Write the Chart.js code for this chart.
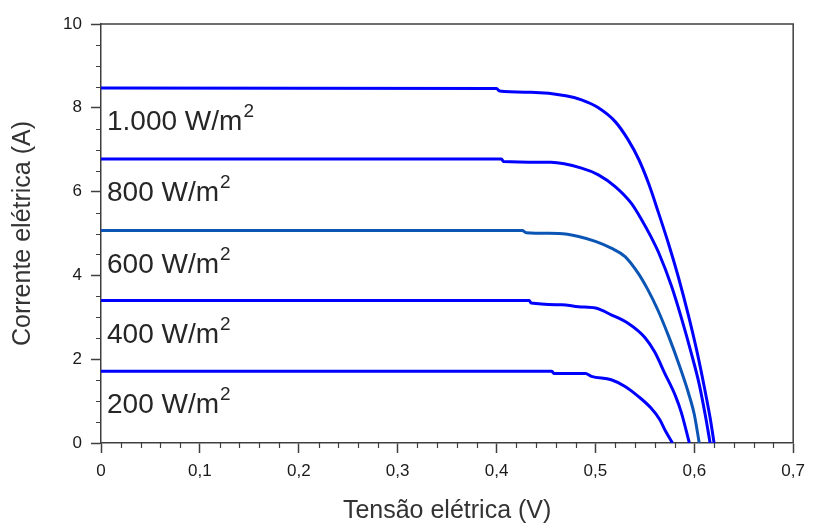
<!DOCTYPE html>
<html>
<head>
<meta charset="utf-8">
<script src="https://cdn.jsdelivr.net/npm/chart.js@4"></script>
<style>
  html, body { margin: 0; padding: 0; background: #fff; }
  #wrap { width: 813px; height: 528px; position: relative; }
</style>
</head>
<body>
<div id="wrap"><canvas id="ivChart"></canvas></div>
<script>
// I-V curves, one pair of arrays per irradiance
const irradiance = ['1.000', '800', '600', '400', '200']

const v1000 = [0, 0.400, 0.403, 0.435, 0.470, 0.486, 0.503, 0.520, 0.533, 0.544, 0.554, 0.564, 0.574, 0.584, 0.594, 0.603, 0.610, 0.616, 0.620]
const i1000 = [8.47, 8.46, 8.40, 8.37, 8.29, 8.19, 8.00, 7.67, 7.24, 6.76, 6.18, 5.48, 4.75, 3.95, 3.05, 2.15, 1.35, 0.60, 0]

const v800 = [0, 0.405, 0.407, 0.455, 0.486, 0.503, 0.520, 0.536, 0.546, 0.556, 0.564, 0.577, 0.587, 0.597, 0.605, 0.611, 0.616]
const i800 = [6.78, 6.78, 6.72, 6.70, 6.56, 6.40, 6.12, 5.73, 5.36, 4.93, 4.54, 3.74, 2.98, 2.14, 1.40, 0.68, 0]

const v600 = [0, 0.426, 0.430, 0.463, 0.483, 0.500, 0.516, 0.530, 0.543, 0.553, 0.563, 0.574, 0.584, 0.594, 0.600, 0.605]
const i600 = [5.07, 5.07, 5.02, 5.00, 4.93, 4.81, 4.65, 4.45, 4.06, 3.66, 3.18, 2.55, 1.91, 1.20, 0.68, 0]

const v400 = [0, 0.433, 0.435, 0.466, 0.483, 0.500, 0.516, 0.533, 0.550, 0.560, 0.570, 0.581, 0.587, 0.595]
const i400 = [3.40, 3.40, 3.34, 3.30, 3.25, 3.22, 3.06, 2.86, 2.52, 2.17, 1.67, 1.12, 0.72, 0]

const v200 = [0, 0.456, 0.458, 0.490, 0.496, 0.516, 0.530, 0.543, 0.556, 0.565, 0.571, 0.578]
const i200 = [1.71, 1.71, 1.66, 1.66, 1.59, 1.51, 1.35, 1.12, 0.84, 0.56, 0.28, 0]

const xTicks = [0, 0.1, 0.2, 0.3, 0.4, 0.5, 0.6, 0.7]
const yTicks = [0, 2, 4, 6, 8, 10]

const FONT = "'Liberation Sans', Arial, sans-serif"
const AXIS = '#3f3f3f'

const toPoints = (vs, is) => vs.map((v, k) => ({ x: v, y: is[k] }))

const curves = [
  { v: v1000, i: i1000, color: '#0000ff' },
  { v: v800, i: i800, color: '#0000ff' },
  { v: v600, i: i600, color: '#0b56b4' },
  { v: v400, i: i400, color: '#0000ff' },
  { v: v200, i: i200, color: '#0000ff' }
]

// frame, minor ticks and the irradiance labels
const decor = {
  id: 'decor',
  afterDraw(chart) {
    const { ctx, chartArea: a, scales: { x, y } } = chart
    ctx.save()
    ctx.strokeStyle = AXIS
    ctx.lineWidth = 1.5
    ctx.beginPath()
    ctx.moveTo(a.left, a.top); ctx.lineTo(a.right, a.top); ctx.lineTo(a.right, a.bottom)
    ctx.stroke()

    ctx.lineWidth = 1.2
    ctx.beginPath()
    for (let k = 1; k < 35; k++) {
      if (k % 5 === 0) continue
      const px = Math.round(x.getPixelForValue(k * 0.02)) + 0.5
      ctx.moveTo(px, a.bottom); ctx.lineTo(px, a.bottom + 5)
    }
    for (let k = 1; k < 20; k++) {
      if (k % 4 === 0) continue
      const py = Math.round(y.getPixelForValue(k * 0.5)) + 0.5
      ctx.moveTo(a.left, py); ctx.lineTo(a.left - 5, py)
    }
    ctx.stroke()

    ctx.fillStyle = '#262626'
    ctx.textBaseline = 'alphabetic'
    ctx.textAlign = 'left'
    curves.forEach((c, k) => {
      const px = x.getPixelForValue(0) + 6
      const py = y.getPixelForValue(c.i[0]) + 42
      ctx.font = '28px ' + FONT
      const main = irradiance[k] + ' W/m'
      ctx.fillText(main, px, py)
      const w = ctx.measureText(main).width
      ctx.font = '19px ' + FONT
      ctx.fillText('2', px + w + 1, py - 13)
    })
    ctx.restore()
  }
}

new Chart(document.getElementById('ivChart'), {
  type: 'scatter',
  data: {
    datasets: curves.map((c, k) => ({
      label: irradiance[k] + ' W/m²',
      data: toPoints(c.v, c.i),
      showLine: true,
      borderColor: c.color,
      borderWidth: 3,
      pointRadius: 0,
      cubicInterpolationMode: 'monotone'
    }))
  },
  options: {
    responsive: true,
    maintainAspectRatio: false,
    animation: false,
    events: [],
    layout: { padding: { top: 24, right: 18, left: 0, bottom: 0 } },
    plugins: { legend: { display: false }, tooltip: { enabled: false } },
    scales: {
      x: {
        type: 'linear',
        min: 0,
        max: 0.7,
        afterBuildTicks: s => { s.ticks = xTicks.map(v => ({ value: v })) },
        afterFit: s => { s.height = 85 },
        grid: { drawOnChartArea: false, tickLength: 10, color: AXIS, tickWidth: 1.5 },
        border: { color: AXIS, width: 1.5 },
        ticks: {
          padding: 8,
          color: '#1a1a1a',
          font: { family: FONT, size: 17 },
          callback: v => v === 0 ? '0' : v.toFixed(1).replace('.', ',')
        },
        title: {
          display: true,
          text: 'Tensão elétrica (V)',
          color: '#333',
          font: { family: FONT, size: 25 },
          padding: { top: 0, bottom: 2 }
        }
      },
      y: {
        type: 'linear',
        min: 0,
        max: 10,
        afterBuildTicks: s => { s.ticks = yTicks.map(v => ({ value: v })) },
        afterFit: s => { s.width = 101 },
        grid: { drawOnChartArea: false, tickLength: 10, color: AXIS, tickWidth: 1.5 },
        border: { color: AXIS, width: 1.5 },
        ticks: {
          padding: 9,
          color: '#1a1a1a',
          font: { family: FONT, size: 17 }
        },
        title: {
          display: true,
          text: 'Corrente elétrica (A)',
          color: '#333',
          font: { family: FONT, size: 25 },
          padding: { top: 8, bottom: 0 }
        }
      }
    }
  },
  plugins: [decor]
})
</script>
</body>
</html>
